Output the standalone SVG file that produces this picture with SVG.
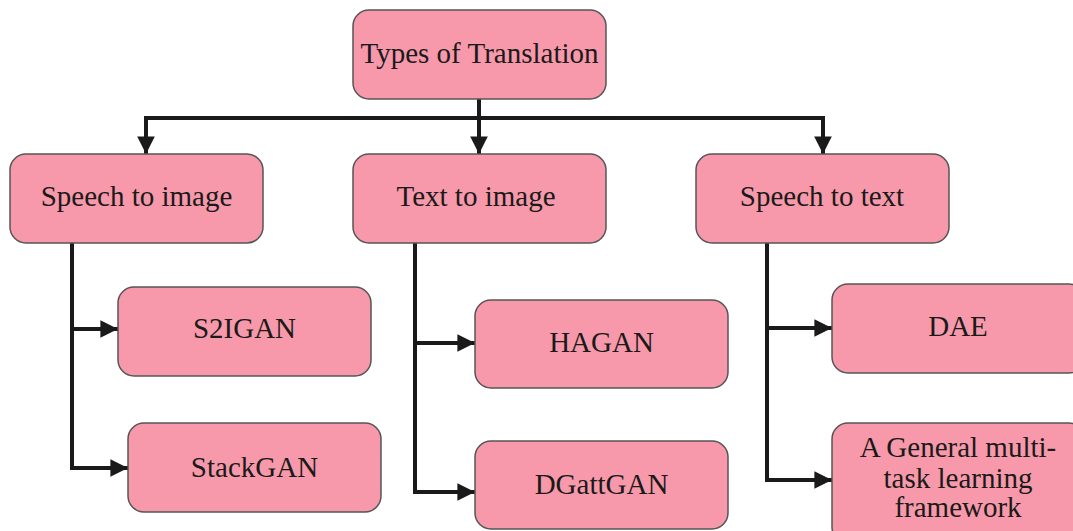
<svg xmlns="http://www.w3.org/2000/svg" width="1073" height="531" viewBox="0 0 1073 531">
<style>
.box{fill:#f799aa;stroke:#555;stroke-width:1.5}
.lbl{font-family:"Liberation Serif","Times New Roman",serif;font-size:29px;fill:#1a1a1a;text-anchor:middle}
.ln{fill:none;stroke:#1a1a1a;stroke-width:4;stroke-linejoin:miter}
</style>
<defs>
<marker id="ah" viewBox="0 0 10 10" refX="10" refY="5" markerWidth="4.4" markerHeight="4.4" orient="auto" markerUnits="strokeWidth">
<path d="M0,0 L10,5 L0,10 z" fill="#1a1a1a"/>
</marker>
</defs>
<rect width="1073" height="531" fill="#fff"/>
<g id="connectors">
<path class="ln" d="M479,99 V154" marker-end="url(#ah)"/>
<path class="ln" d="M146,154 V118 H823 V154" marker-end="url(#ah)"/>
<path class="ln" d="M146,118 V154" marker-end="url(#ah)"/>
<path class="ln" d="M72,243 V468 H128" marker-end="url(#ah)"/>
<path class="ln" d="M72,329 H118" marker-end="url(#ah)"/>
<path class="ln" d="M415,243 V492 H475" marker-end="url(#ah)"/>
<path class="ln" d="M415,343 H475" marker-end="url(#ah)"/>
<path class="ln" d="M767,243 V480 H832" marker-end="url(#ah)"/>
<path class="ln" d="M767,328 H832" marker-end="url(#ah)"/>
</g>
<g id="root"><rect class="box" x="353" y="10" width="253" height="89" rx="16"/><text class="lbl" x="479.5" y="63">Types of Translation</text></g>
<g id="speech-to-image"><rect class="box" x="10" y="154" width="253" height="89" rx="16"/><text class="lbl" x="136.5" y="206">Speech to image</text></g>
<g id="text-to-image"><rect class="box" x="353" y="154" width="253" height="89" rx="16"/><text class="lbl" x="476" y="206">Text to image</text></g>
<g id="speech-to-text"><rect class="box" x="696" y="154" width="253" height="89" rx="16"/><text class="lbl" x="822" y="206">Speech to text</text></g>
<g id="s2igan"><rect class="box" x="118" y="287" width="253" height="89" rx="16"/><text class="lbl" x="244.5" y="338">S2IGAN</text></g>
<g id="stackgan"><rect class="box" x="128" y="423" width="253" height="89" rx="16"/><text class="lbl" x="254.5" y="477">StackGAN</text></g>
<g id="hagan"><rect class="box" x="475" y="300" width="253" height="88" rx="16"/><text class="lbl" x="601.5" y="352">HAGAN</text></g>
<g id="dgattgan"><rect class="box" x="475" y="441" width="253" height="88" rx="16"/><text class="lbl" x="601.5" y="494">DGattGAN</text></g>
<g id="dae"><rect class="box" x="832" y="284" width="253" height="89" rx="16"/><text class="lbl" x="958" y="336">DAE</text></g>
<g id="multitask"><rect class="box" x="832" y="423" width="253" height="120" rx="16"/><text class="lbl" x="958" y="457">A General multi-</text><text class="lbl" x="958" y="488">task learning</text><text class="lbl" x="958" y="517">framework</text></g>
</svg>
